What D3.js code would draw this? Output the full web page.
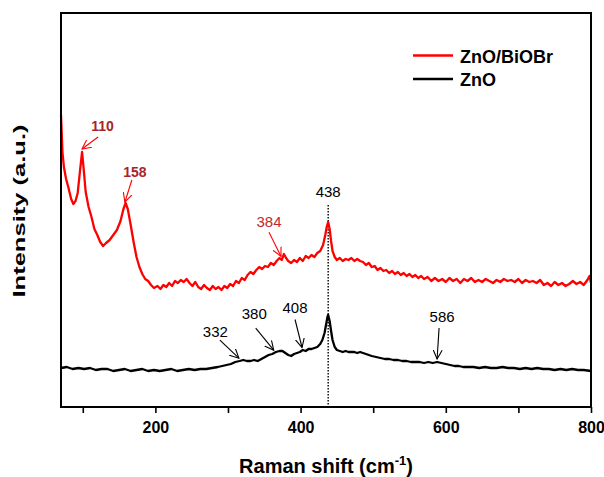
<!DOCTYPE html>
<html>
<head>
<meta charset="utf-8">
<script src="https://cdn.jsdelivr.net/npm/d3@7"></script>
<style>
  body { margin: 0; background: #fff; }
  text { font-family: Arial, "Liberation Sans", sans-serif; }
</style>
</head>
<body>
<div id="chart"></div>
<script>
// Raman spectra, [shift cm-1, intensity a.u.]
var zncBiOBr = [[70,292],[72,255],[74,240],[77,228],[80,220],[84,208],[87,203],[90,206],[93,214],[96,235],[99,255],[101,240],[104,215],[108,200],[112,190],[116,178],[120,172],[124,165],[128,161],[132,164],[137,167],[142,172],[147,177],[152,186],[156,198],[159,204],[162,198],[166,182],[170,165],[174,150],[178,140],[182,133],[186,128],[190,126],[194,122],[198,119],[203,121],[207,118],[211,122],[215,120],[219,124],[223,121],[227,126],[231,124],[235,127],[239,125],[243,128],[247,124],[251,121],[255,125],[259,120],[263,118],[267,122],[271,119],[275,117],[279,121],[283,118],[287,120],[291,117],[295,121],[299,119],[303,123],[307,121],[311,126],[315,124],[319,129],[323,127],[327,132],[331,135],[335,133],[339,137],[343,140],[347,138],[351,141],[355,140],[359,144],[363,142],[367,146],[371,149],[374,147],[377,153],[380,149],[383,146],[387,144],[391,147],[395,145],[399,149],[403,146],[407,151],[411,149],[415,152],[419,150],[423,154],[427,156],[431,162],[434,172],[436,180],[438,185],[440,178],[442,166],[444,156],[447,150],[450,147],[454,149],[458,146],[462,148],[466,147],[470,149],[474,146],[478,148],[482,146],[486,145],[490,142],[494,144],[498,140],[502,141],[506,137],[510,139],[514,136],[518,137],[522,134],[526,136],[530,133],[534,135],[538,132],[542,134],[546,131],[550,133],[554,130],[558,132],[562,129],[566,131],[570,128],[575,130],[580,126],[585,129],[590,126],[595,128],[600,125],[605,129],[610,126],[615,128],[620,124],[625,128],[630,126],[635,129],[640,125],[645,127],[650,125],[655,128],[660,126],[665,124],[670,127],[675,125],[680,128],[685,126],[690,127],[695,125],[700,128],[705,124],[710,127],[715,125],[720,126],[725,124],[730,127],[735,122],[740,124],[745,121],[750,125],[755,122],[760,124],[765,121],[770,123],[775,126],[780,123],[785,125],[790,122],[795,127],[798,131],[800,124]];

var zno = [[70,39],[78,40],[86,38],[94,39],[102,38],[110,39],[118,37],[126,38],[134,38],[142,36],[150,37],[158,38],[166,36],[174,37],[182,38],[190,36],[198,37],[206,36],[214,37],[222,38],[230,36],[238,37],[246,38],[254,37],[262,38],[270,38],[278,39],[286,40],[292,41],[298,42],[304,43],[310,45],[316,46],[321,47],[326,46],[331,46],[336,47],[341,46],[346,48],[351,50],[356,52],[361,53],[366,55],[371,56],[375,56],[379,54],[383,52],[387,51],[391,53],[395,54],[399,55],[403,57],[407,56],[411,58],[415,58],[419,59],[423,60],[427,63],[430,67],[433,74],[435,82],[437,90],[438,92],[440,86],[442,76],[444,67],[447,60],[450,57],[454,56],[458,55],[462,56],[466,55],[470,55],[474,55],[478,54],[482,55],[486,54],[490,53],[494,52],[498,51],[504,50],[510,49],[516,48],[522,48],[528,47],[534,47],[540,46],[546,46],[552,45],[558,45],[564,45],[570,44],[576,45],[582,44],[588,45],[594,44],[600,43],[606,42],[612,41],[618,41],[624,40],[630,40],[638,40],[646,39],[654,40],[662,39],[670,39],[678,40],[686,39],[694,39],[702,38],[710,39],[718,38],[726,39],[734,38],[742,38],[750,37],[758,38],[766,37],[774,38],[782,37],[790,37],[800,36]];

var seriesNames = ['ZnO/BiOBr', 'ZnO'];
var xTicks = [200, 400, 600, 800];
var xMinorTicks = [100, 300, 500, 700];

// peak labels: text, shift the arrow points at, which series
var peakLabels = ['110', '158', '384', '332', '380', '408', '586'];
var peakShifts = [99, 158, 373, 315, 363, 402, 588];
var peakSeries = [0, 0, 0, 1, 1, 1, 1];
var markerShift = 438;

// arrow tail offsets (px) from tip, label offsets from tail
var arrowDx = [16, 7, -12, -19, -18, -7, 2];
var arrowDy = [-12, -22, -24, -18, -22, -28, -31];
var labelDx = [4.5, 3, 0, -4.5, -1.5, 0, 3];
var labelDy = [-6, -3, -5, -3, -9, -7, -6];

var W = 604, H = 477;
var pLeft = 61, pRight = 591, pTop = 13, pBottom = 407;

var svg = d3.select('#chart').append('svg')
	.attr('width', W)
	.attr('height', H);

var xScale = d3.scaleLinear().domain([70, 800]).range([pLeft, pRight]);
var yScale = d3.scaleLinear().domain([0, 394]).range([pBottom, pTop]);

var colors = ['#ff0000', '#000000'];
var data = [zncBiOBr, zno];

svg.append('defs').selectAll('marker')
	.data(colors)
	.enter().append('marker')
	.attr('id', function(d, i) { return 'arr' + i; })
	.attr('viewBox', '0 0 10 10')
	.attr('refX', 9).attr('refY', 5)
	.attr('markerWidth', 10).attr('markerHeight', 10)
	.attr('markerUnits', 'userSpaceOnUse')
	.attr('orient', 'auto')
	.append('path')
	.attr('d', 'M0,0.5 L9,5 L0,9.5')
	.attr('fill', 'none')
	.attr('stroke', function(d) { return d; })
	.attr('stroke-width', 1.1);

// dotted marker line at 438
svg.append('line')
	.attr('x1', xScale(markerShift)).attr('x2', xScale(markerShift))
	.attr('y1', 205).attr('y2', pBottom)
	.attr('stroke', '#000')
	.attr('stroke-width', 1.4)
	.attr('stroke-dasharray', '1.5,1.5');

svg.append('text')
	.attr('x', xScale(markerShift))
	.attr('y', 197)
	.attr('text-anchor', 'middle')
	.style('font-size', '15px')
	.text(markerShift);

var line = d3.line()
	.x(function(d) { return xScale(d[0]); })
	.y(function(d) { return yScale(d[1]); });

svg.selectAll('.spec')
	.data(data)
	.enter().append('path')
	.attr('class', 'spec')
	.attr('d', line)
	.attr('fill', 'none')
	.attr('stroke', function(d, i) { return colors[i]; })
	.attr('stroke-width', 2.3)
	.attr('stroke-linejoin', 'round');

function valueAt(series, x) {
	var s = data[series];
	var i = d3.bisector(function(d) { return d[0]; }).left(s, x);
	if (i <= 0) return s[0][1];
	var a = s[i - 1], b = s[i];
	return a[1] + (b[1] - a[1]) * (x - a[0]) / (b[0] - a[0]);
}

// peak arrows
peakLabels.forEach(function(lab, i) {
	var tx = xScale(peakShifts[i]);
	var ty = yScale(valueAt(peakSeries[i], peakShifts[i])) - 3;
	var sx = tx + arrowDx[i], sy = ty + arrowDy[i];
	var c = peakSeries[i] == 0 ? '#ff0000' : '#000';
	svg.append('line')
		.attr('x1', sx).attr('y1', sy)
		.attr('x2', tx).attr('y2', ty)
		.attr('stroke', c)
		.attr('stroke-width', 1.1)
		.attr('marker-end', 'url(#arr' + peakSeries[i] + ')');
	svg.append('text')
		.attr('x', sx + labelDx[i])
		.attr('y', sy + labelDy[i])
		.attr('text-anchor', 'middle')
		.style('font-size', i < 2 ? '14px' : '15px')
		.style('font-weight', i < 2 ? 'bold' : 'normal')
		.attr('fill', peakSeries[i] == 0 ? (i < 2 ? '#a8242a' : '#c0282e') : '#000')
		.text(lab);
});

// frame
svg.append('rect')
	.attr('x', pLeft).attr('y', pTop)
	.attr('width', pRight - pLeft).attr('height', pBottom - pTop)
	.attr('fill', 'none')
	.attr('stroke', '#000')
	.attr('stroke-width', 2);

var xAxis = d3.axisBottom(xScale)
	.tickValues(xTicks)
	.tickSize(6)
	.tickPadding(9)
	.tickFormat(d3.format('d'));
var xAxisG = svg.append('g')
	.attr('transform', 'translate(0,' + pBottom + ')')
	.call(xAxis);
xAxisG.select('.domain').remove();
xAxisG.selectAll('line').attr('stroke-width', 1.6);
xAxisG.selectAll('text')
	.style('font-size', '16px')
	.style('font-weight', 'bold')
	.style('font-family', 'Arial, "Liberation Sans", sans-serif')
	.attr('fill', '#000');

var xMinor = svg.append('g')
	.attr('transform', 'translate(0,' + pBottom + ')')
	.call(d3.axisBottom(xScale).tickValues(xMinorTicks).tickSize(6).tickFormat(''));
xMinor.select('.domain').remove();
xMinor.selectAll('line').attr('stroke-width', 1.6);

// axis titles
var xLabel = svg.append('text')
	.attr('x', (pLeft + pRight) / 2)
	.attr('y', 473)
	.attr('text-anchor', 'middle')
	.style('font-size', '20px')
	.style('font-weight', 'bold');
xLabel.append('tspan').text('Raman shift (cm');
xLabel.append('tspan').attr('dy', -8).style('font-size', '13px').text('-1');
xLabel.append('tspan').attr('dy', 8).text(')');

svg.append('text')
	.attr('transform', 'translate(25,211) rotate(-90)')
	.attr('text-anchor', 'middle')
	.attr('textLength', 173)
	.attr('lengthAdjust', 'spacingAndGlyphs')
	.style('font-size', '17px')
	.style('font-weight', 'bold')
	.text('Intensity (a.u.)');

// legend
var legend = svg.append('g');
seriesNames.forEach(function(name, i) {
	var ly = 55.5 + i * 23.5;
	legend.append('line')
		.attr('x1', 413).attr('x2', 453)
		.attr('y1', ly).attr('y2', ly)
		.attr('stroke', colors[i])
		.attr('stroke-width', 2.4);
	legend.append('text')
		.attr('x', 460).attr('y', ly + 7)
		.style('font-size', '18px')
		.style('font-weight', 'bold')
		.text(name);
});
</script>
</body>
</html>
